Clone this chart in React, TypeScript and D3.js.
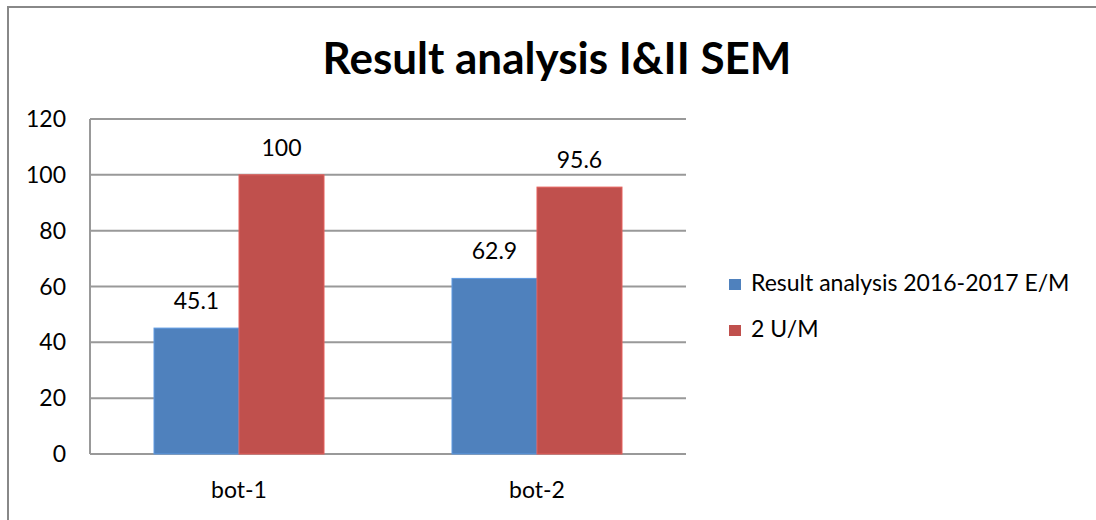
import React from "react";
import * as d3 from "d3";

const categories = ["bot-1", "bot-2"];
const seriesNames = ["Result analysis 2016-2017 E/M", "2 U/M"];
const seriesA = [45.1, 62.9];
const seriesB = [100, 95.6];
const yTicks = [0, 20, 40, 60, 80, 100, 120];
const colors = ["#4F81BD", "#C0504D"];

const W = 1096;
const H = 520;
const FONT = "Lato, 'Open Sans', sans-serif";

export default function App() {
  const margin = { top: 119, left: 90, right: 410, bottom: 66 };

  const x0 = d3
    .scaleBand<string>()
    .domain(categories)
    .range([margin.left, W - margin.right])
    .paddingInner(0.4295)
    .paddingOuter(0.2148);

  const x1 = d3
    .scaleBand<number>()
    .domain([0, 1])
    .range([0, x0.bandwidth()]);

  const y = d3
    .scaleLinear()
    .domain([0, 120])
    .range([H - margin.bottom, margin.top]);

  const series = [seriesA, seriesB];

  return (
    <svg
      width={W}
      height={H}
      style={{ position: "absolute", left: 0, top: 0, background: "#fff" }}
      fontFamily={FONT}
    >
      <rect x={8} y={7} width={W + 10} height={H + 10} fill="#fff" stroke="#888" strokeWidth={2} />

      <text x={557} y={74} textAnchor="middle" fontSize={44} fontWeight="bold" fill="#000">
        Result analysis I&amp;II SEM
      </text>

      {yTicks.map((t) => (
        <g key={t}>
          <line
            x1={margin.left}
            x2={W - margin.right}
            y1={y(t)}
            y2={y(t)}
            stroke="#999"
            strokeWidth={2}
          />
          <text x={66} y={y(t)} dy="0.35em" textAnchor="end" fontSize={23} fill="#000">
            {t}
          </text>
        </g>
      ))}
      <line x1={margin.left} x2={margin.left} y1={y(120)} y2={y(0)} stroke="#999" strokeWidth={2} />

      {categories.map((c, i) => (
        <g key={c}>
          {series.map((s, j) => (
            <g key={j}>
              <rect
                x={x0(c)! + x1(j)!}
                y={y(s[i])}
                width={x1.bandwidth()}
                height={y(0) - y(s[i])}
                fill={colors[j]}
                stroke={d3.color(colors[j])!.brighter(0.5).toString()}
                strokeWidth={1}
              />
              <text
                x={x0(c)! + x1(j)! + x1.bandwidth() / 2}
                y={y(s[i]) - 19}
                textAnchor="middle"
                fontSize={23}
                fill="#000"
              >
                {s[i]}
              </text>
            </g>
          ))}
          <text x={x0(c)! + x0.bandwidth() / 2} y={498} textAnchor="middle" fontSize={23} fill="#000">
            {c}
          </text>
        </g>
      ))}

      {seriesNames.map((n, j) => (
        <g key={n} transform={`translate(729, ${279 + j * 46})`}>
          <rect width={12} height={11} fill={colors[j]} />
          <text x={22} y={12} fontSize={23} fill="#000">
            {n}
          </text>
        </g>
      ))}
    </svg>
  );
}
